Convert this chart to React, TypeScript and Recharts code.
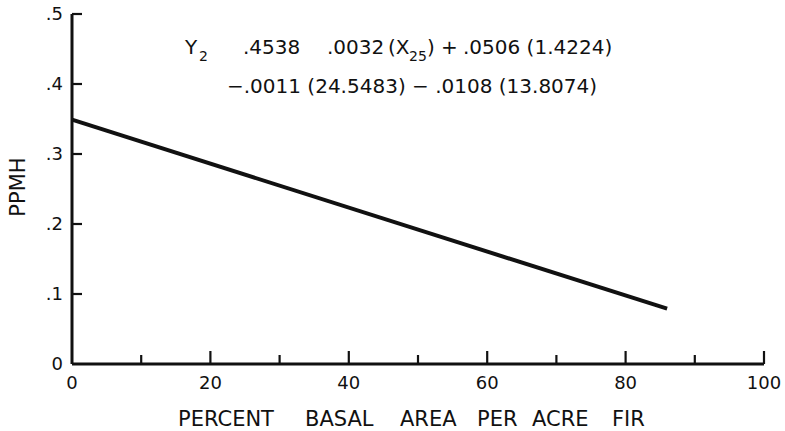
import { Customized, Line, LineChart, XAxis, YAxis } from "recharts";

// percent basal area per acre fir -> PPMH
const firPercent = [0, 86];
const ppmh = [0.349, 0.079];

const xTicks = [0, 10, 20, 30, 40, 50, 60, 70, 80, 90, 100];
const xLabeled = [0, 20, 40, 60, 80, 100];
const yTicks = [0, 0.1, 0.2, 0.3, 0.4, 0.5];
const yTickLabels = ["0", ".1", ".2", ".3", ".4", ".5"];

// equation pieces, sub = subscript
const equationLine1 = [
  { text: "Y", x: 185, sub: false },
  { text: "2", x: 199, sub: true },
  { text: ".4538", x: 243, sub: false },
  { text: ".0032", x: 327, sub: false },
  { text: "(X", x: 388, sub: false },
  { text: "25", x: 409, sub: true },
  { text: ")", x: 427, sub: false },
  { text: "+", x: 441, sub: false },
  { text: ".0506 (1.4224)", x: 463, sub: false },
];
const equationLine2 = "\u2212.0011 (24.5483) \u2212 .0108 (13.8074)";

const titleWords = [
  { text: "PERCENT", x: 178 },
  { text: "BASAL", x: 305 },
  { text: "AREA", x: 400 },
  { text: "PER", x: 477 },
  { text: "ACRE", x: 532 },
  { text: "FIR", x: 612 },
];

const data = firPercent.map((x, i) => ({ x, y: ppmh[i] }));

const FONT = "'DejaVu Sans', sans-serif";
const INK = "#111";
const pre = { whiteSpace: "pre" as const };

function XTick(props: any) {
  const { x, y, payload } = props;
  const v = payload.value as number;
  const major = v % 20 === 0;
  const len = v === 0 ? 0 : major ? 13 : 9;
  return (
    <g>
      {len > 0 && <line x1={x} y1={y} x2={x} y2={y - len} stroke={INK} strokeWidth={2.2} />}
      {xLabeled.includes(v) && (
        <text x={x} y={y + 25} textAnchor="middle" fontSize={18} fontFamily={FONT} fill={INK}>
          {v}
        </text>
      )}
    </g>
  );
}

function YTick(props: any) {
  const { x, y, payload } = props;
  const v = payload.value as number;
  const idx = yTicks.findIndex((t) => Math.abs(t - v) < 1e-6);
  return (
    <g>
      {v !== 0 && <line x1={x} y1={y} x2={x + 10} y2={y} stroke={INK} strokeWidth={2.2} />}
      <text x={x - 9} y={y + 6} textAnchor="end" fontSize={18} fontFamily={FONT} fill={INK}>
        {yTickLabels[idx]}
      </text>
    </g>
  );
}

function Equation() {
  return (
    <g fontFamily={FONT} fill={INK}>
      {equationLine1.map((p, i) => (
        <text key={i} x={p.x} y={p.sub ? 61 : 54} fontSize={p.sub ? 14 : 20} style={pre}>
          {p.text}
        </text>
      ))}
      <text x={227} y={93} fontSize={20} style={pre}>
        {equationLine2}
      </text>
      <text x={25} y={187} fontSize={21} textAnchor="middle" transform="rotate(-90 25 187)">
        PPMH
      </text>
      {titleWords.map((w) => (
        <text key={w.text} x={w.x} y={426} fontSize={21}>
          {w.text}
        </text>
      ))}
    </g>
  );
}

export default function App() {
  return (
    <div style={{ position: "absolute", left: 0, top: 0, width: 785, height: 431, background: "#fff" }}>
      <LineChart
        width={785}
        height={431}
        data={data}
        margin={{ top: 14, right: 21, bottom: 37, left: 22 }}
      >
        <XAxis
          dataKey="x"
          type="number"
          domain={[0, 100]}
          ticks={xTicks}
          interval={0}
          tickLine={false}
          tickSize={0}
          tickMargin={0}
          height={30}
          axisLine={{ stroke: INK, strokeWidth: 3 }}
          tick={<XTick />}
        />
        <YAxis
          type="number"
          domain={[0, 0.5]}
          ticks={yTicks}
          interval={0}
          tickLine={false}
          tickSize={0}
          tickMargin={0}
          width={50}
          axisLine={{ stroke: INK, strokeWidth: 3 }}
          tick={<YTick />}
        />
        <Line
          dataKey="y"
          type="linear"
          stroke={INK}
          strokeWidth={4}
          dot={false}
          isAnimationActive={false}
        />
        <Customized component={<Equation />} />
      </LineChart>
    </div>
  );
}
